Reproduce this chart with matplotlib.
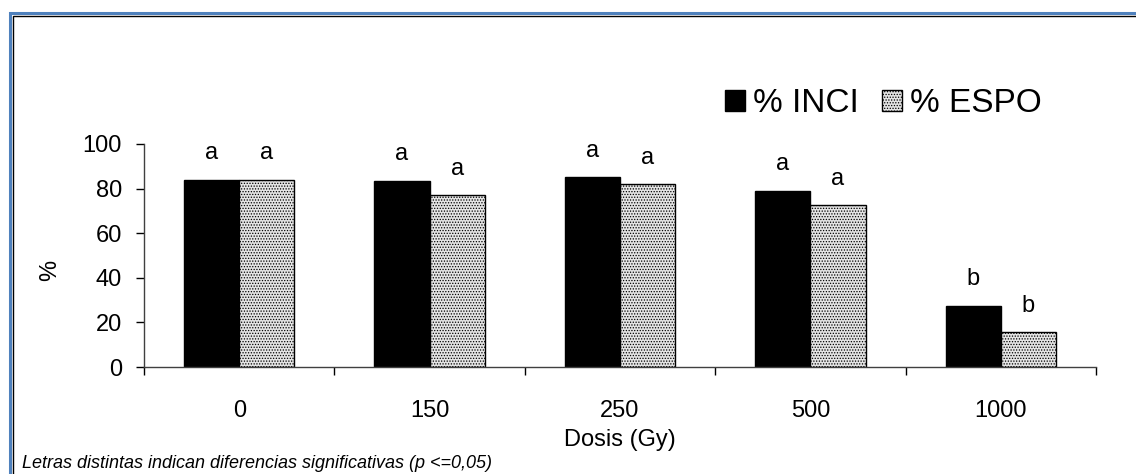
import matplotlib.pyplot as plt
import numpy as np
from matplotlib.patches import Rectangle

# data
doses = ["0", "150", "250", "500", "1000"]
inci = [84, 83.5, 85, 79, 27.5]
espo = [84, 77, 82, 72.5, 15.5]
inci_letters = ["a", "a", "a", "a", "b"]
espo_letters = ["a", "a", "a", "a", "b"]

plt.rcParams["font.family"] = ["Liberation Sans", "DejaVu Sans"]
plt.rcParams["hatch.color"] = "#7a7a7a"
plt.rcParams["hatch.linewidth"] = 0.6

fig = plt.figure(figsize=(11.36, 4.74), dpi=100)
ax = fig.add_axes([144 / 1136, 1 - 367 / 474, (1096 - 144) / 1136, (367 - 144) / 474])

x = np.arange(len(doses))
w = 0.29
ax.bar(x - w / 2, inci, w, color="black", edgecolor="black", linewidth=1,
       label="% INCI")
ax.bar(x + w / 2, espo, w, color="#e4e4e4", edgecolor="black", linewidth=1,
       hatch="......", label="% ESPO")

for xi, v, t in zip(x - w / 2, inci, inci_letters):
    ax.text(xi, v + 7, t, ha="center", va="bottom", fontsize=17)
for xi, v, t in zip(x + w / 2, espo, espo_letters):
    ax.text(xi, v + 7, t, ha="center", va="bottom", fontsize=17)

ax.set_xlim(-0.5, len(doses) - 0.5)
ax.set_ylim(0, 100)
ax.set_yticks(range(0, 101, 20))
ax.set_xticks(x)
ax.set_xticklabels(doses)
ax.set_xticks(np.arange(-0.5, len(doses), 1.0), minor=True)
ax.tick_params(axis="x", which="major", length=0, pad=24, labelsize=17)
ax.tick_params(axis="x", which="minor", length=6, direction="out", width=1)
ax.tick_params(axis="y", length=6, direction="out", width=1, labelsize=17, pad=10)
for s in ["top", "right"]:
    ax.spines[s].set_visible(False)
for s in ["left", "bottom"]:
    ax.spines[s].set_linewidth(1)
    ax.spines[s].set_color("#404040")

ax.set_xlabel("Dosis (Gy)", fontsize=17, labelpad=5)
fig.text(50 / 1136, 1 - 270 / 474, "%", rotation=90, fontsize=17,
         ha="center", va="center")

ax.legend(loc="upper right", bbox_to_anchor=(1072 / 1136, 1 - 58 / 474),
          bbox_transform=fig.transFigure, ncol=2, frameon=False, fontsize=24,
          handlelength=0.6, handleheight=0.6, handletextpad=0.25,
          columnspacing=0.7)

fig.text(22 / 1136, 1 - 463 / 474,
         "Letras distintas indican diferencias significativas (p <=0,05)",
         fontsize=13, style="italic", ha="left", va="center")

# outer frame (top and left edges visible)
fig.patches.append(Rectangle((10 / 1136, -0.1), 1.2, 1 - 13 / 474 + 0.1,
                             transform=fig.transFigure, fill=False,
                             edgecolor="#4f81bd", linewidth=2.2))
fig.patches.append(Rectangle((13 / 1136, -0.1), 1.2, 1 - 16 / 474 + 0.1,
                             transform=fig.transFigure, fill=False,
                             edgecolor="black", linewidth=1))

fig.savefig("out.png", dpi=100)
